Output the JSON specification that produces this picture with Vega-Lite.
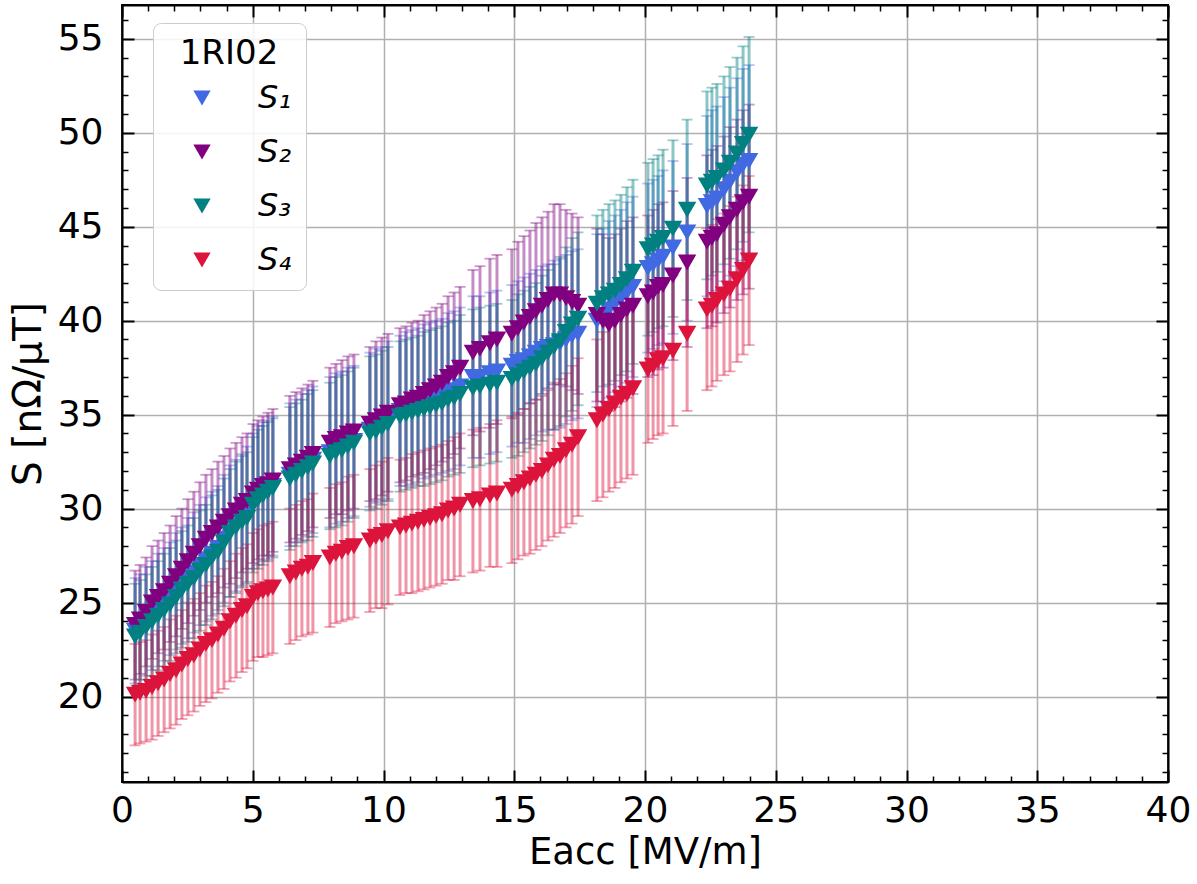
{
"$schema":"https://vega.github.io/schema/vega-lite/v6.json",
"width":1046,"height":777,
"autosize":{"type":"none"},
"padding":{"left":122,"top":5,"right":29,"bottom":102},
"background":"white",
"config":{"font":"DejaVu Sans","view":{"stroke":"black","strokeWidth":2},
"axis":{"domainColor":"black","domainWidth":2,"tickColor":"black","labelColor":"black","titleColor":"black","labelFont":"DejaVu Sans","titleFont":"DejaVu Sans","titleFontWeight":"normal","labelFlush":false,"labelOverlap":false,"labelBound":false},
"legend":{"orient":"none","legendX":31,"legendY":18,"symbolType":"triangle-down","symbolSize":300,"symbolOpacity":1,"symbolStrokeWidth":0,"labelFontSize":32,"labelFontStyle":"italic","labelFont":"DejaVu Sans","labelColor":"black","titleFont":"DejaVu Sans","titleFontSize":34,"titleFontWeight":"normal","titleColor":"black","titleAnchor":"middle","fillColor":"rgba(255,255,255,0.85)","strokeColor":"#cccccc","cornerRadius":8,"padding":14,"rowPadding":22,"titlePadding":11,"symbolOffset":19,"labelOffset":40}},
"data":{"values":[
{"E":0.50,"k":"S₁","S":23.5,"e":2.8},{"E":0.69,"k":"S₁","S":23.7,"e":2.8},{"E":0.92,"k":"S₁","S":24.0,"e":2.9},{"E":1.15,"k":"S₁","S":24.3,"e":2.9},{"E":1.38,"k":"S₁","S":24.6,"e":3.0},{"E":1.61,"k":"S₁","S":24.9,"e":3.0},{"E":1.84,"k":"S₁","S":25.2,"e":3.0},{"E":2.07,"k":"S₁","S":25.6,"e":3.1},{"E":2.29,"k":"S₁","S":25.9,"e":3.1},{"E":2.52,"k":"S₁","S":26.3,"e":3.2},{"E":2.75,"k":"S₁","S":26.6,"e":3.2},{"E":2.98,"k":"S₁","S":27.0,"e":3.2},{"E":3.21,"k":"S₁","S":27.3,"e":3.3},{"E":3.44,"k":"S₁","S":27.6,"e":3.3},{"E":3.67,"k":"S₁","S":27.9,"e":3.3},{"E":3.90,"k":"S₁","S":28.4,"e":3.4},{"E":4.13,"k":"S₁","S":28.8,"e":3.5},{"E":4.36,"k":"S₁","S":29.1,"e":3.5},{"E":4.59,"k":"S₁","S":29.4,"e":3.5},{"E":4.78,"k":"S₁","S":29.7,"e":3.6},
{"E":5.01,"k":"S₁","S":30.4,"e":3.6},{"E":5.20,"k":"S₁","S":30.7,"e":3.7},{"E":5.39,"k":"S₁","S":30.9,"e":3.7},{"E":5.58,"k":"S₁","S":31.0,"e":3.7},{"E":5.77,"k":"S₁","S":31.2,"e":3.7},{"E":6.42,"k":"S₁","S":31.8,"e":3.8},{"E":6.65,"k":"S₁","S":32.0,"e":3.8},{"E":6.88,"k":"S₁","S":32.2,"e":3.9},{"E":7.11,"k":"S₁","S":32.4,"e":3.9},{"E":7.30,"k":"S₁","S":32.6,"e":3.9},{"E":7.95,"k":"S₁","S":33.0,"e":4.0},{"E":8.18,"k":"S₁","S":33.2,"e":4.0},{"E":8.41,"k":"S₁","S":33.3,"e":4.0},{"E":8.64,"k":"S₁","S":33.5,"e":4.0},{"E":8.87,"k":"S₁","S":33.6,"e":4.0},{"E":9.48,"k":"S₁","S":34.2,"e":4.1},{"E":9.71,"k":"S₁","S":34.4,"e":4.1},{"E":9.94,"k":"S₁","S":34.5,"e":4.1},{"E":10.17,"k":"S₁","S":34.7,"e":4.2},
{"E":10.63,"k":"S₁","S":35.2,"e":4.0},{"E":10.86,"k":"S₁","S":35.3,"e":4.1},{"E":11.09,"k":"S₁","S":35.4,"e":4.1},{"E":11.32,"k":"S₁","S":35.5,"e":4.1},{"E":11.55,"k":"S₁","S":35.7,"e":4.1},{"E":11.78,"k":"S₁","S":35.8,"e":4.1},{"E":12.01,"k":"S₁","S":35.9,"e":4.1},{"E":12.24,"k":"S₁","S":36.0,"e":4.1},{"E":12.47,"k":"S₁","S":36.2,"e":4.2},{"E":12.70,"k":"S₁","S":36.3,"e":4.2},{"E":12.93,"k":"S₁","S":36.5,"e":4.2},{"E":13.42,"k":"S₁","S":37.0,"e":4.3},{"E":13.69,"k":"S₁","S":37.0,"e":4.3},{"E":14.07,"k":"S₁","S":37.2,"e":4.3},{"E":14.34,"k":"S₁","S":37.3,"e":4.3},{"E":14.91,"k":"S₁","S":37.6,"e":4.3},{"E":15.14,"k":"S₁","S":37.8,"e":4.3},{"E":15.37,"k":"S₁","S":37.9,"e":4.4},{"E":15.60,"k":"S₁","S":38.1,"e":4.4},{"E":15.83,"k":"S₁","S":38.3,"e":4.4},{"E":16.06,"k":"S₁","S":38.5,"e":4.4},{"E":16.29,"k":"S₁","S":38.6,"e":4.4},{"E":16.52,"k":"S₁","S":38.7,"e":4.5},{"E":16.75,"k":"S₁","S":38.8,"e":4.5},{"E":16.98,"k":"S₁","S":39.0,"e":4.5},{"E":17.21,"k":"S₁","S":39.2,"e":4.5},{"E":17.44,"k":"S₁","S":39.3,"e":4.5},
{"E":18.16,"k":"S₁","S":40.0,"e":4.6},{"E":18.39,"k":"S₁","S":40.3,"e":4.6},{"E":18.62,"k":"S₁","S":40.6,"e":4.7},{"E":18.85,"k":"S₁","S":40.9,"e":4.7},{"E":19.08,"k":"S₁","S":41.2,"e":4.7},{"E":19.31,"k":"S₁","S":41.5,"e":4.8},{"E":19.54,"k":"S₁","S":41.8,"e":4.8},{"E":20.11,"k":"S₁","S":42.8,"e":4.5},{"E":20.31,"k":"S₁","S":43.0,"e":4.5},{"E":20.50,"k":"S₁","S":43.2,"e":4.5},{"E":20.69,"k":"S₁","S":43.4,"e":4.6},{"E":21.07,"k":"S₁","S":43.9,"e":4.6},{"E":21.61,"k":"S₁","S":44.7,"e":4.7},{"E":22.37,"k":"S₁","S":46.1,"e":4.8},{"E":22.56,"k":"S₁","S":46.3,"e":4.9},{"E":22.75,"k":"S₁","S":46.5,"e":4.9},{"E":23.02,"k":"S₁","S":47.0,"e":4.9},{"E":23.25,"k":"S₁","S":47.4,"e":5.0},{"E":23.52,"k":"S₁","S":47.9,"e":5.0},{"E":23.75,"k":"S₁","S":48.3,"e":5.1},{"E":23.98,"k":"S₁","S":48.5,"e":5.1},

{"E":0.50,"k":"S₂","S":23.8,"e":2.9},{"E":0.69,"k":"S₂","S":24.1,"e":2.9},{"E":0.92,"k":"S₂","S":24.5,"e":2.9},{"E":1.15,"k":"S₂","S":25.0,"e":3.0},{"E":1.38,"k":"S₂","S":25.3,"e":3.0},{"E":1.61,"k":"S₂","S":25.6,"e":3.1},{"E":1.84,"k":"S₂","S":26.0,"e":3.1},{"E":2.07,"k":"S₂","S":26.4,"e":3.2},{"E":2.29,"k":"S₂","S":26.8,"e":3.2},{"E":2.52,"k":"S₂","S":27.2,"e":3.3},{"E":2.75,"k":"S₂","S":27.6,"e":3.3},{"E":2.98,"k":"S₂","S":28.0,"e":3.4},{"E":3.21,"k":"S₂","S":28.4,"e":3.4},{"E":3.44,"k":"S₂","S":28.7,"e":3.4},{"E":3.67,"k":"S₂","S":29.0,"e":3.5},{"E":3.90,"k":"S₂","S":29.3,"e":3.5},{"E":4.13,"k":"S₂","S":29.6,"e":3.6},{"E":4.36,"k":"S₂","S":29.9,"e":3.6},{"E":4.59,"k":"S₂","S":30.2,"e":3.6},{"E":4.78,"k":"S₂","S":30.4,"e":3.6},
{"E":5.01,"k":"S₂","S":30.8,"e":3.7},{"E":5.20,"k":"S₂","S":31.0,"e":3.7},{"E":5.39,"k":"S₂","S":31.2,"e":3.7},{"E":5.58,"k":"S₂","S":31.3,"e":3.8},{"E":5.77,"k":"S₂","S":31.5,"e":3.8},{"E":6.42,"k":"S₂","S":32.1,"e":3.9},{"E":6.65,"k":"S₂","S":32.3,"e":3.9},{"E":6.88,"k":"S₂","S":32.5,"e":3.9},{"E":7.11,"k":"S₂","S":32.7,"e":3.9},{"E":7.30,"k":"S₂","S":32.9,"e":3.9},{"E":7.95,"k":"S₂","S":33.5,"e":4.0},{"E":8.18,"k":"S₂","S":33.7,"e":4.0},{"E":8.41,"k":"S₂","S":33.8,"e":4.1},{"E":8.64,"k":"S₂","S":34.0,"e":4.1},{"E":8.87,"k":"S₂","S":34.1,"e":4.1},{"E":9.48,"k":"S₂","S":34.5,"e":4.1},{"E":9.71,"k":"S₂","S":34.7,"e":4.2},{"E":9.94,"k":"S₂","S":34.9,"e":4.2},{"E":10.17,"k":"S₂","S":35.1,"e":4.2},
{"E":10.63,"k":"S₂","S":35.5,"e":4.1},{"E":10.86,"k":"S₂","S":35.6,"e":4.1},{"E":11.09,"k":"S₂","S":35.8,"e":4.1},{"E":11.32,"k":"S₂","S":35.9,"e":4.1},{"E":11.55,"k":"S₂","S":36.1,"e":4.2},{"E":11.78,"k":"S₂","S":36.3,"e":4.2},{"E":12.01,"k":"S₂","S":36.5,"e":4.2},{"E":12.24,"k":"S₂","S":36.7,"e":4.2},{"E":12.47,"k":"S₂","S":37.0,"e":4.3},{"E":12.70,"k":"S₂","S":37.2,"e":4.3},{"E":12.93,"k":"S₂","S":37.5,"e":4.3},{"E":13.42,"k":"S₂","S":38.3,"e":4.4},{"E":13.69,"k":"S₂","S":38.5,"e":4.4},{"E":14.07,"k":"S₂","S":38.8,"e":4.5},{"E":14.34,"k":"S₂","S":39.0,"e":4.5},{"E":14.91,"k":"S₂","S":39.3,"e":4.5},{"E":15.14,"k":"S₂","S":39.6,"e":4.6},{"E":15.37,"k":"S₂","S":39.9,"e":4.6},{"E":15.60,"k":"S₂","S":40.2,"e":4.6},{"E":15.83,"k":"S₂","S":40.5,"e":4.7},{"E":16.06,"k":"S₂","S":40.8,"e":4.7},{"E":16.29,"k":"S₂","S":41.1,"e":4.7},{"E":16.52,"k":"S₂","S":41.4,"e":4.8},{"E":16.75,"k":"S₂","S":41.4,"e":4.8},{"E":16.98,"k":"S₂","S":41.2,"e":4.7},{"E":17.21,"k":"S₂","S":41.0,"e":4.7},{"E":17.44,"k":"S₂","S":40.8,"e":4.7},
{"E":18.16,"k":"S₂","S":40.3,"e":4.6},{"E":18.39,"k":"S₂","S":40.0,"e":4.6},{"E":18.62,"k":"S₂","S":39.8,"e":4.6},{"E":18.85,"k":"S₂","S":40.0,"e":4.6},{"E":19.08,"k":"S₂","S":40.3,"e":4.6},{"E":19.31,"k":"S₂","S":40.6,"e":4.7},{"E":19.54,"k":"S₂","S":40.8,"e":4.7},{"E":20.11,"k":"S₂","S":41.3,"e":4.3},{"E":20.31,"k":"S₂","S":41.5,"e":4.4},{"E":20.50,"k":"S₂","S":41.8,"e":4.4},{"E":20.69,"k":"S₂","S":41.9,"e":4.4},{"E":21.07,"k":"S₂","S":42.4,"e":4.5},{"E":21.61,"k":"S₂","S":43.1,"e":4.5},{"E":22.37,"k":"S₂","S":44.2,"e":4.6},{"E":22.56,"k":"S₂","S":44.4,"e":4.7},{"E":22.75,"k":"S₂","S":44.6,"e":4.7},{"E":23.02,"k":"S₂","S":45.1,"e":4.7},{"E":23.25,"k":"S₂","S":45.5,"e":4.8},{"E":23.52,"k":"S₂","S":45.9,"e":4.8},{"E":23.75,"k":"S₂","S":46.3,"e":4.9},{"E":23.98,"k":"S₂","S":46.6,"e":4.9},

{"E":0.50,"k":"S₃","S":23.2,"e":2.8},{"E":0.69,"k":"S₃","S":23.4,"e":2.8},{"E":0.92,"k":"S₃","S":23.7,"e":2.8},{"E":1.15,"k":"S₃","S":24.0,"e":2.9},{"E":1.38,"k":"S₃","S":24.3,"e":2.9},{"E":1.61,"k":"S₃","S":24.6,"e":3.0},{"E":1.84,"k":"S₃","S":24.9,"e":3.0},{"E":2.07,"k":"S₃","S":25.3,"e":3.0},{"E":2.29,"k":"S₃","S":25.7,"e":3.1},{"E":2.52,"k":"S₃","S":26.0,"e":3.1},{"E":2.75,"k":"S₃","S":26.3,"e":3.2},{"E":2.98,"k":"S₃","S":26.7,"e":3.2},{"E":3.21,"k":"S₃","S":27.0,"e":3.2},{"E":3.44,"k":"S₃","S":27.4,"e":3.3},{"E":3.67,"k":"S₃","S":27.7,"e":3.3},{"E":3.90,"k":"S₃","S":28.2,"e":3.4},{"E":4.13,"k":"S₃","S":28.7,"e":3.4},{"E":4.36,"k":"S₃","S":29.0,"e":3.5},{"E":4.59,"k":"S₃","S":29.3,"e":3.5},{"E":4.78,"k":"S₃","S":29.5,"e":3.5},
{"E":5.01,"k":"S₃","S":30.2,"e":3.6},{"E":5.20,"k":"S₃","S":30.5,"e":3.7},{"E":5.39,"k":"S₃","S":30.7,"e":3.7},{"E":5.58,"k":"S₃","S":30.9,"e":3.7},{"E":5.77,"k":"S₃","S":31.1,"e":3.7},{"E":6.42,"k":"S₃","S":31.6,"e":3.8},{"E":6.65,"k":"S₃","S":31.8,"e":3.8},{"E":6.88,"k":"S₃","S":32.0,"e":3.8},{"E":7.11,"k":"S₃","S":32.2,"e":3.9},{"E":7.30,"k":"S₃","S":32.4,"e":3.9},{"E":7.95,"k":"S₃","S":32.8,"e":3.9},{"E":8.18,"k":"S₃","S":33.0,"e":4.0},{"E":8.41,"k":"S₃","S":33.1,"e":4.0},{"E":8.64,"k":"S₃","S":33.3,"e":4.0},{"E":8.87,"k":"S₃","S":33.5,"e":4.0},{"E":9.48,"k":"S₃","S":34.0,"e":4.1},{"E":9.71,"k":"S₃","S":34.1,"e":4.1},{"E":9.94,"k":"S₃","S":34.3,"e":4.1},{"E":10.17,"k":"S₃","S":34.5,"e":4.1},
{"E":10.63,"k":"S₃","S":34.9,"e":4.0},{"E":10.86,"k":"S₃","S":35.0,"e":4.0},{"E":11.09,"k":"S₃","S":35.1,"e":4.0},{"E":11.32,"k":"S₃","S":35.2,"e":4.0},{"E":11.55,"k":"S₃","S":35.3,"e":4.1},{"E":11.78,"k":"S₃","S":35.4,"e":4.1},{"E":12.01,"k":"S₃","S":35.5,"e":4.1},{"E":12.24,"k":"S₃","S":35.6,"e":4.1},{"E":12.47,"k":"S₃","S":35.8,"e":4.1},{"E":12.70,"k":"S₃","S":35.9,"e":4.1},{"E":12.93,"k":"S₃","S":36.1,"e":4.2},{"E":13.42,"k":"S₃","S":36.4,"e":4.2},{"E":13.69,"k":"S₃","S":36.5,"e":4.2},{"E":14.07,"k":"S₃","S":36.6,"e":4.2},{"E":14.34,"k":"S₃","S":36.7,"e":4.2},{"E":14.91,"k":"S₃","S":36.9,"e":4.2},{"E":15.14,"k":"S₃","S":37.1,"e":4.3},{"E":15.37,"k":"S₃","S":37.3,"e":4.3},{"E":15.60,"k":"S₃","S":37.5,"e":4.3},{"E":15.83,"k":"S₃","S":37.7,"e":4.3},{"E":16.06,"k":"S₃","S":38.0,"e":4.4},{"E":16.29,"k":"S₃","S":38.3,"e":4.4},{"E":16.52,"k":"S₃","S":38.6,"e":4.4},{"E":16.75,"k":"S₃","S":38.9,"e":4.5},{"E":16.98,"k":"S₃","S":39.4,"e":4.5},{"E":17.21,"k":"S₃","S":39.8,"e":4.6},{"E":17.44,"k":"S₃","S":40.1,"e":4.6},
{"E":18.16,"k":"S₃","S":40.9,"e":4.7},{"E":18.39,"k":"S₃","S":41.2,"e":4.7},{"E":18.62,"k":"S₃","S":41.4,"e":4.8},{"E":18.85,"k":"S₃","S":41.6,"e":4.8},{"E":19.08,"k":"S₃","S":41.9,"e":4.8},{"E":19.31,"k":"S₃","S":42.2,"e":4.9},{"E":19.54,"k":"S₃","S":42.6,"e":4.9},{"E":20.11,"k":"S₃","S":43.8,"e":4.6},{"E":20.31,"k":"S₃","S":44.0,"e":4.6},{"E":20.50,"k":"S₃","S":44.2,"e":4.6},{"E":20.69,"k":"S₃","S":44.4,"e":4.7},{"E":21.07,"k":"S₃","S":44.9,"e":4.7},{"E":21.61,"k":"S₃","S":45.9,"e":4.8},{"E":22.37,"k":"S₃","S":47.2,"e":5.0},{"E":22.56,"k":"S₃","S":47.4,"e":5.0},{"E":22.75,"k":"S₃","S":47.6,"e":5.0},{"E":23.02,"k":"S₃","S":48.0,"e":5.0},{"E":23.25,"k":"S₃","S":48.4,"e":5.1},{"E":23.52,"k":"S₃","S":48.9,"e":5.1},{"E":23.75,"k":"S₃","S":49.4,"e":5.2},{"E":23.98,"k":"S₃","S":49.9,"e":5.2},

{"E":0.50,"k":"S₄","S":20.1,"e":2.7},{"E":0.69,"k":"S₄","S":20.2,"e":2.7},{"E":0.92,"k":"S₄","S":20.3,"e":2.7},{"E":1.15,"k":"S₄","S":20.5,"e":2.8},{"E":1.38,"k":"S₄","S":20.7,"e":2.8},{"E":1.61,"k":"S₄","S":20.9,"e":2.8},{"E":1.84,"k":"S₄","S":21.2,"e":2.9},{"E":2.07,"k":"S₄","S":21.4,"e":2.9},{"E":2.29,"k":"S₄","S":21.7,"e":2.9},{"E":2.52,"k":"S₄","S":22.0,"e":3.0},{"E":2.75,"k":"S₄","S":22.2,"e":3.0},{"E":2.98,"k":"S₄","S":22.5,"e":3.0},{"E":3.21,"k":"S₄","S":22.8,"e":3.1},{"E":3.44,"k":"S₄","S":23.0,"e":3.1},{"E":3.67,"k":"S₄","S":23.3,"e":3.1},{"E":3.90,"k":"S₄","S":23.6,"e":3.2},{"E":4.13,"k":"S₄","S":24.0,"e":3.2},{"E":4.36,"k":"S₄","S":24.3,"e":3.3},{"E":4.59,"k":"S₄","S":24.6,"e":3.3},{"E":4.78,"k":"S₄","S":24.8,"e":3.3},
{"E":5.01,"k":"S₄","S":25.3,"e":3.4},{"E":5.20,"k":"S₄","S":25.5,"e":3.4},{"E":5.39,"k":"S₄","S":25.6,"e":3.5},{"E":5.58,"k":"S₄","S":25.7,"e":3.5},{"E":5.77,"k":"S₄","S":25.8,"e":3.5},{"E":6.42,"k":"S₄","S":26.4,"e":3.6},{"E":6.65,"k":"S₄","S":26.6,"e":3.6},{"E":6.88,"k":"S₄","S":26.8,"e":3.6},{"E":7.11,"k":"S₄","S":26.9,"e":3.6},{"E":7.30,"k":"S₄","S":27.1,"e":3.7},{"E":7.95,"k":"S₄","S":27.4,"e":3.7},{"E":8.18,"k":"S₄","S":27.6,"e":3.7},{"E":8.41,"k":"S₄","S":27.7,"e":3.7},{"E":8.64,"k":"S₄","S":27.9,"e":3.8},{"E":8.87,"k":"S₄","S":28.0,"e":3.8},{"E":9.48,"k":"S₄","S":28.3,"e":3.8},{"E":9.71,"k":"S₄","S":28.5,"e":3.8},{"E":9.94,"k":"S₄","S":28.6,"e":3.9},{"E":10.17,"k":"S₄","S":28.8,"e":3.9},
{"E":10.63,"k":"S₄","S":29.0,"e":3.6},{"E":10.86,"k":"S₄","S":29.1,"e":3.6},{"E":11.09,"k":"S₄","S":29.2,"e":3.7},{"E":11.32,"k":"S₄","S":29.3,"e":3.7},{"E":11.55,"k":"S₄","S":29.4,"e":3.7},{"E":11.78,"k":"S₄","S":29.5,"e":3.7},{"E":12.01,"k":"S₄","S":29.6,"e":3.7},{"E":12.24,"k":"S₄","S":29.7,"e":3.7},{"E":12.47,"k":"S₄","S":29.9,"e":3.7},{"E":12.70,"k":"S₄","S":30.0,"e":3.8},{"E":12.93,"k":"S₄","S":30.2,"e":3.8},{"E":13.42,"k":"S₄","S":30.4,"e":3.8},{"E":13.69,"k":"S₄","S":30.5,"e":3.8},{"E":14.07,"k":"S₄","S":30.7,"e":3.8},{"E":14.34,"k":"S₄","S":30.8,"e":3.9},{"E":14.91,"k":"S₄","S":31.0,"e":3.9},{"E":15.14,"k":"S₄","S":31.2,"e":3.9},{"E":15.37,"k":"S₄","S":31.4,"e":3.9},{"E":15.60,"k":"S₄","S":31.6,"e":4.0},{"E":15.83,"k":"S₄","S":31.8,"e":4.0},{"E":16.06,"k":"S₄","S":32.0,"e":4.0},{"E":16.29,"k":"S₄","S":32.3,"e":4.0},{"E":16.52,"k":"S₄","S":32.6,"e":4.1},{"E":16.75,"k":"S₄","S":32.8,"e":4.1},{"E":16.98,"k":"S₄","S":33.1,"e":4.1},{"E":17.21,"k":"S₄","S":33.4,"e":4.2},{"E":17.44,"k":"S₄","S":33.8,"e":4.2},
{"E":18.16,"k":"S₄","S":34.7,"e":4.3},{"E":18.39,"k":"S₄","S":35.0,"e":4.4},{"E":18.62,"k":"S₄","S":35.3,"e":4.4},{"E":18.85,"k":"S₄","S":35.6,"e":4.5},{"E":19.08,"k":"S₄","S":35.9,"e":4.5},{"E":19.31,"k":"S₄","S":36.1,"e":4.5},{"E":19.54,"k":"S₄","S":36.4,"e":4.6},{"E":20.11,"k":"S₄","S":37.4,"e":3.9},{"E":20.31,"k":"S₄","S":37.6,"e":3.9},{"E":20.50,"k":"S₄","S":37.9,"e":4.0},{"E":20.69,"k":"S₄","S":38.0,"e":4.0},{"E":21.07,"k":"S₄","S":38.4,"e":4.0},{"E":21.61,"k":"S₄","S":39.3,"e":4.1},{"E":22.37,"k":"S₄","S":40.6,"e":4.3},{"E":22.56,"k":"S₄","S":40.8,"e":4.3},{"E":22.75,"k":"S₄","S":41.1,"e":4.3},{"E":23.02,"k":"S₄","S":41.4,"e":4.3},{"E":23.25,"k":"S₄","S":41.7,"e":4.4},{"E":23.52,"k":"S₄","S":42.2,"e":4.4},{"E":23.75,"k":"S₄","S":42.7,"e":4.5},{"E":23.98,"k":"S₄","S":43.2,"e":4.5}
]},
"layer":[
{"mark":{"type":"errorbar","ticks":{"size":11,"thickness":1.8,"opacity":0.4},"rule":{"strokeWidth":3,"opacity":0.45}},
 "encoding":{
  "x":{"field":"E","type":"quantitative","scale":{"domain":[0,40],"nice":false,"zero":false},
   "axis":{"orient":"bottom","values":[0,5,10,15,20,25,30,35,40],"grid":true,"gridColor":"#b0b0b0","gridWidth":1.5,"tickSize":-12,"tickWidth":2,"labelFontSize":36,"labelPadding":23,"title":"Eacc [MV/m]","titleFontSize":37,"titlePadding":6}},
  "y":{"field":"S","type":"quantitative","scale":{"domain":[15.45,56.8],"nice":false,"zero":false},
   "axis":{"orient":"left","values":[20,25,30,35,40,45,50,55],"grid":true,"gridColor":"#b0b0b0","gridWidth":1.5,"tickSize":-12,"tickWidth":2,"labelFontSize":36,"labelPadding":31,"title":"S [nΩ/μT]","titleFontSize":39,"titlePadding":9}},
  "yError":{"field":"e"},
  "color":{"field":"k","type":"nominal","scale":{"domain":["S₁","S₂","S₃","S₄"],"range":["#4169E1","#800080","#008080","#DC143C"]},"legend":{"title":"1RI02"}}
 }},
{"mark":{"type":"point","shape":"triangle-down","filled":true,"size":340,"opacity":1,"strokeWidth":0},
 "encoding":{
  "x":{"field":"E","type":"quantitative","axis":{"orient":"bottom","values":[1,2,3,4,6,7,8,9,11,12,13,14,16,17,18,19,21,22,23,24,26,27,28,29,31,32,33,34,36,37,38,39],"labels":false,"grid":false,"domain":false,"tickSize":-6,"tickWidth":1.5,"title":null}},
  "y":{"field":"S","type":"quantitative","axis":{"orient":"left","values":[16,17,18,19,21,22,23,24,26,27,28,29,31,32,33,34,36,37,38,39,41,42,43,44,46,47,48,49,51,52,53,54,56],"labels":false,"grid":false,"domain":false,"tickSize":-6,"tickWidth":1.5,"title":null}},
  "color":{"field":"k","type":"nominal","legend":{"title":"1RI02"}}
 }},
{"mark":{"type":"point","opacity":0},
 "encoding":{
  "x":{"field":"E","type":"quantitative","axis":{"orient":"top","values":[0,5,10,15,20,25,30,35,40],"labels":false,"grid":false,"tickSize":-12,"tickWidth":2,"title":null}},
  "y":{"field":"S","type":"quantitative","axis":{"orient":"right","values":[20,25,30,35,40,45,50,55],"labels":false,"grid":false,"tickSize":-12,"tickWidth":2,"title":null}}
 }},
{"mark":{"type":"point","opacity":0},
 "encoding":{
  "x":{"field":"E","type":"quantitative","axis":{"orient":"top","values":[1,2,3,4,6,7,8,9,11,12,13,14,16,17,18,19,21,22,23,24,26,27,28,29,31,32,33,34,36,37,38,39],"labels":false,"grid":false,"domain":false,"tickSize":-6,"tickWidth":1.5,"title":null}},
  "y":{"field":"S","type":"quantitative","axis":{"orient":"right","values":[16,17,18,19,21,22,23,24,26,27,28,29,31,32,33,34,36,37,38,39,41,42,43,44,46,47,48,49,51,52,53,54,56],"labels":false,"grid":false,"domain":false,"tickSize":-6,"tickWidth":1.5,"title":null}}
 }}
],
"resolve":{"axis":{"x":"independent","y":"independent"}}
}
